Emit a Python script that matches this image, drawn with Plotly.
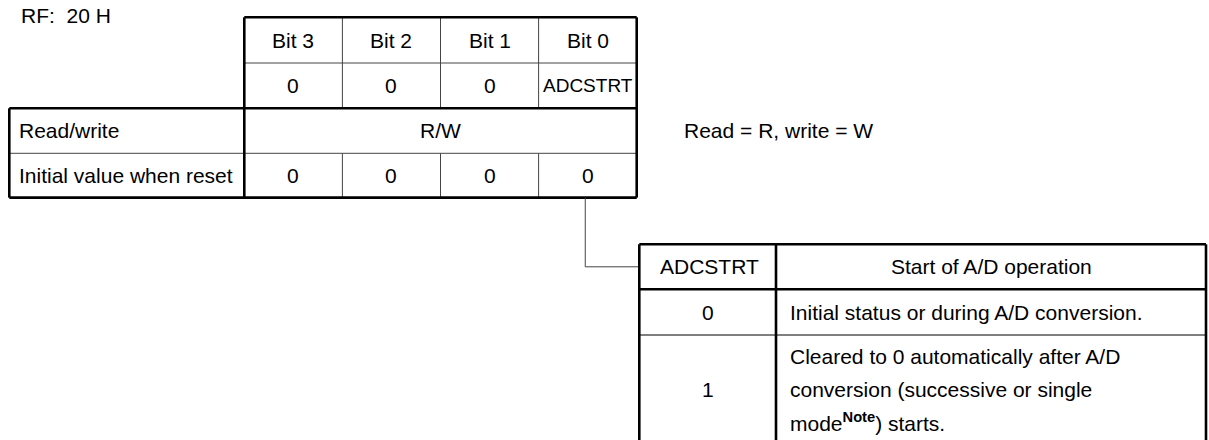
import plotly.graph_objects as go

# ---------------- data ----------------
register_name = "RF:\u00a0 20 H"
bit_labels = ["Bit 3", "Bit 2", "Bit 1", "Bit 0"]
bit_names = ["0", "0", "0", "ADCSTRT"]
row_labels = ["Read/write", "Initial value when reset"]
access_value = "R/W"
initial_values = ["0", "0", "0", "0"]
access_note = "Read = R, write = W"
setting_header = ["ADCSTRT", "Start of A/D operation"]
setting_values = ["0", "1"]
setting_descriptions = [
    ["Initial status or during A/D conversion."],
    ["Cleared to 0 automatically after A/D",
     "conversion (successive or single",
     "mode<sup><b>Note</b></sup>) starts."],
]

# ---------------- layout geometry ----------------
W, H = 1209, 440
FONT = "Liberation Sans, Arial, Helvetica, sans-serif"
FS = 21
THICK = 2.6
THIN = 1.0
THIN_COL = "#444"

left_x = 9.3
bit_x0 = 244.3
col_w = 98.1
bit_edges = [bit_x0 + i * col_w for i in range(len(bit_labels) + 1)]
top_rows = [17.3, 63.0, 108.3]
low_rows = [108.3, 153.3, 197.6]

bt_x = [639.3, 776.0, 1206.0]
bt_y = [244.3, 289.3, 335.0, 445.0]
conn_x = bit_edges[-2] + col_w / 2 - 2.4

shapes = []
annotations = []


def line(x0, y0, x1, y1, w, c="#000"):
    shapes.append(dict(type="line", xref="x", yref="y", x0=x0, y0=y0, x1=x1, y1=y1,
                       line=dict(color=c, width=w)))


def text(x, y, s, anchor="center", size=FS):
    annotations.append(dict(x=x, y=y, xref="x", yref="y", text=s, showarrow=False,
                            xanchor=anchor, yanchor="middle",
                            font=dict(family=FONT, size=size, color="#000")))


# register name
text(19, 15, register_name, anchor="left")

# top table (bit labels and names)
for i in range(1, len(bit_labels)):
    line(bit_edges[i], top_rows[0], bit_edges[i], top_rows[2], THIN, THIN_COL)
line(bit_edges[0], top_rows[1], bit_edges[-1], top_rows[1], THIN, THIN_COL)
for i, lab in enumerate(bit_labels):
    cx = (bit_edges[i] + bit_edges[i + 1]) / 2
    text(cx, (top_rows[0] + top_rows[1]) / 2, lab)
    nm = bit_names[i]
    text(cx, (top_rows[1] + top_rows[2]) / 2, nm, size=(19 if len(nm) > 3 else FS))

# lower table (read/write, initial value)
line(left_x, low_rows[1], bit_edges[-1], low_rows[1], THIN, THIN_COL)
for i in range(1, len(bit_labels)):
    line(bit_edges[i], low_rows[1], bit_edges[i], low_rows[2], THIN, THIN_COL)
text(17, (low_rows[0] + low_rows[1]) / 2, row_labels[0], anchor="left")
text(17, (low_rows[1] + low_rows[2]) / 2, row_labels[1], anchor="left")
text((bit_edges[0] + bit_edges[-1]) / 2, (low_rows[0] + low_rows[1]) / 2, access_value)
for i, v in enumerate(initial_values):
    text((bit_edges[i] + bit_edges[i + 1]) / 2, (low_rows[1] + low_rows[2]) / 2, v)
text(681.5, (low_rows[0] + low_rows[1]) / 2, access_note, anchor="left")

# thick borders of the register tables
line(bit_edges[0], top_rows[0], bit_edges[-1], top_rows[0], THICK)
line(bit_edges[0], top_rows[0], bit_edges[0], low_rows[2], THICK)
line(bit_edges[-1], top_rows[0], bit_edges[-1], low_rows[2], THICK)
line(left_x, low_rows[0], bit_edges[-1], low_rows[0], THICK)
line(left_x, low_rows[2], bit_edges[-1], low_rows[2], THICK)
line(left_x, low_rows[0], left_x, low_rows[2], THICK)

# connector
conn_y = (bt_y[0] + bt_y[1]) / 2
line(conn_x, low_rows[2], conn_x, conn_y, THIN, THIN_COL)
line(conn_x, conn_y, bt_x[0], conn_y, THIN, THIN_COL)

# setting table
line(bt_x[0], bt_y[2], bt_x[2], bt_y[2], THIN, "#000")
line(bt_x[0], bt_y[0], bt_x[2], bt_y[0], THICK)
line(bt_x[0], bt_y[1], bt_x[2], bt_y[1], THICK)
line(bt_x[0], bt_y[0], bt_x[0], bt_y[3], THICK)
line(bt_x[1], bt_y[0], bt_x[1], bt_y[3], THICK)
line(bt_x[2], bt_y[0], bt_x[2], bt_y[3], THICK)

text((bt_x[0] + bt_x[1]) / 2 + 2, (bt_y[0] + bt_y[1]) / 2, setting_header[0])
text((bt_x[1] + bt_x[2]) / 2, (bt_y[0] + bt_y[1]) / 2, setting_header[1])

row_centers = [(bt_y[1] + bt_y[2]) / 2, 389]
line_gap = 32.5
for v, desc, cy in zip(setting_values, setting_descriptions, row_centers):
    text((bt_x[0] + bt_x[1]) / 2, cy, v)
    n = len(desc)
    for k, s in enumerate(desc):
        text(788, cy + (k - (n - 1) / 2) * line_gap, s, anchor="left")

fig = go.Figure()
fig.update_layout(
    width=W, height=H,
    margin=dict(l=0, r=0, t=0, b=0),
    paper_bgcolor="white", plot_bgcolor="white",
    xaxis=dict(range=[0, W], visible=False, fixedrange=True),
    yaxis=dict(range=[H, 0], visible=False, fixedrange=True),
    shapes=shapes, annotations=annotations,
    showlegend=False,
)
fig.write_html(
    "out.html",
    config={"displayModeBar": False},
    post_script="document.body.style.margin='0';document.body.style.overflow='hidden';",
)
